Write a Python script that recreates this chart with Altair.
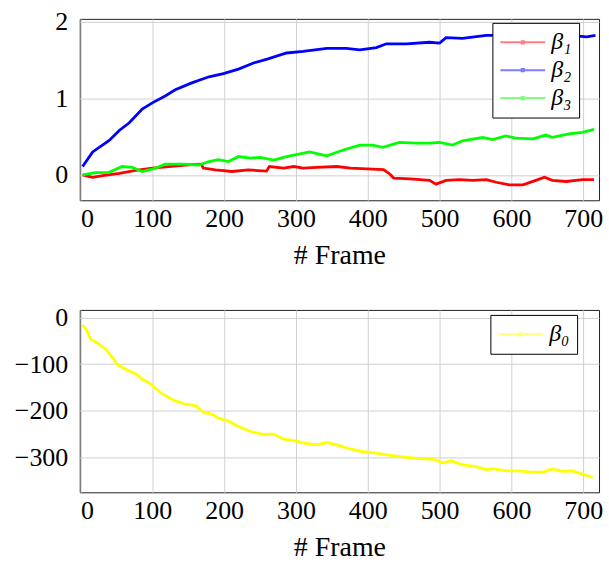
import altair as alt
import pandas as pd

# ---------- data ----------
frames_b1 = [3, 17, 31, 54, 77, 100, 123, 146, 168, 171, 188, 211, 234, 259, 263, 283, 297, 310, 329, 357,
             376, 399, 422, 431, 436, 459, 486, 495, 509, 528, 546, 565, 579, 597, 616, 634, 646, 657, 676, 699, 715]
beta1 = [0.0, -0.03, -0.01, 0.02, 0.06, 0.09, 0.11, 0.13, 0.14, 0.09, 0.065, 0.045, 0.065, 0.05, 0.11, 0.09,
         0.11, 0.09, 0.10, 0.11, 0.09, 0.08, 0.07, 0.01, -0.04, -0.05, -0.07, -0.12, -0.07, -0.06, -0.07, -0.06,
         -0.095, -0.13, -0.13, -0.07, -0.03, -0.07, -0.085, -0.06, -0.06]

frames_b2 = [3, 17, 40, 54, 68, 86, 100, 118, 132, 155, 179, 199, 220, 241, 260, 287, 310, 343, 370, 389,
             412, 426, 454, 486, 500, 509, 532, 565, 590, 620, 650, 680, 705, 717]
beta2 = [0.11, 0.30, 0.45, 0.58, 0.68, 0.86, 0.94, 1.03, 1.11, 1.20, 1.28, 1.32, 1.38, 1.46, 1.51, 1.59, 1.61,
         1.65, 1.65, 1.63, 1.66, 1.71, 1.71, 1.73, 1.72, 1.79, 1.78, 1.82, 1.82, 1.83, 1.83, 1.82, 1.80, 1.82]

frames_b3 = [3, 21, 40, 58, 72, 86, 105, 118, 142, 165, 179, 192, 206, 220, 236, 250, 269, 287, 319, 343,
             366, 389, 407, 421, 444, 468, 486, 500, 518, 532, 560, 574, 592, 606, 630, 648, 657, 680, 699, 715]
beta3 = [0.0, 0.03, 0.035, 0.11, 0.10, 0.045, 0.09, 0.14, 0.14, 0.13, 0.175, 0.20, 0.175, 0.24, 0.22, 0.23,
         0.195, 0.24, 0.30, 0.25, 0.325, 0.39, 0.39, 0.36, 0.425, 0.415, 0.415, 0.425, 0.39, 0.445, 0.49, 0.46,
         0.51, 0.48, 0.47, 0.52, 0.49, 0.535, 0.555, 0.595]

frames_b0 = [3, 8, 14, 26, 35, 45, 51, 63, 77, 86, 98, 114, 132, 146, 160, 172, 183, 192, 206, 220, 236, 255,
             269, 283, 297, 310, 329, 343, 361, 375, 394, 412, 431, 449, 468, 486, 491, 505, 516, 532, 551, 565,
             574, 593, 611, 630, 643, 657, 671, 685, 699, 713]
beta0 = [-16, -25, -46, -57, -68, -86, -100, -111, -121, -132, -143, -164, -179, -186, -189, -204, -207, -216,
         -222, -234, -244, -251, -250, -261, -264, -269, -273, -268, -275, -282, -288, -291, -296, -299, -302,
         -304, -304, -312, -307, -316, -320, -326, -324, -329, -329, -332, -332, -325, -330, -329, -336, -343]

top_names = ["β₁", "β₂", "β₃"]
top_colors = ["#ff0000", "#0000ff", "#00ff00"]
x_ticks = [0, 100, 200, 300, 400, 500, 600, 700]

top_df = pd.concat([
    pd.DataFrame({"frame": frames_b1, "value": beta1, "series": top_names[0]}),
    pd.DataFrame({"frame": frames_b2, "value": beta2, "series": top_names[1]}),
    pd.DataFrame({"frame": frames_b3, "value": beta3, "series": top_names[2]}),
])
bot_df = pd.DataFrame({"frame": frames_b0, "value": beta0, "series": "β₀"})

FONT = "Liberation Serif"
SYM = "M-2,0L2,0M-0.1,-0.1L0.1,-0.1L0.1,0.1L-0.1,0.1Z"


def legend(lx, ly):
    return alt.Legend(
        title=None, orient="none", legendX=lx, legendY=ly, direction="vertical",
        fillColor="white", strokeColor="black", padding=7, cornerRadius=0,
        symbolType=SYM, symbolSize=506, symbolStrokeWidth=2, symbolOpacity=0.5,
        symbolOffset=11, labelOffset=16, rowPadding=3,
        labelFont=FONT, labelFontSize=24, labelFontStyle="italic", labelColor="black",
    )


xenc = alt.X("frame:Q", scale=alt.Scale(domain=[-1, 722], nice=False, zero=False),
             axis=alt.Axis(values=x_ticks, title="# Frame", format="d"))

top = alt.Chart(top_df).mark_line(strokeWidth=2.8).encode(
    x=xenc,
    y=alt.Y("value:Q", scale=alt.Scale(domain=[-0.33, 2.035], nice=False, zero=False),
            axis=alt.Axis(values=[0, 1, 2], title=None, format="d")),
    color=alt.Color("series:N", scale=alt.Scale(domain=top_names, range=top_colors),
                    legend=legend(414, 4)),
).properties(width=521, height=182)

bottom = alt.Chart(bot_df).mark_line(strokeWidth=2.8).encode(
    x=xenc,
    y=alt.Y("value:Q", scale=alt.Scale(domain=[-375, 16.3], nice=False, zero=False),
            axis=alt.Axis(values=[0, -100, -200, -300], title=None, format="d")),
    color=alt.Color("series:N", scale=alt.Scale(domain=["β₀"], range=["#ffff00"]),
                    legend=legend(412, 5)),
).properties(width=521, height=183)

chart = alt.vconcat(top, bottom, spacing=34).resolve_scale(color="independent").configure(
    padding={"left": 13, "top": 7, "right": 5, "bottom": 2},
    background="white",
).configure_view(
    stroke="#222222", strokeWidth=1,
).configure_axis(
    labelFont=FONT, labelFontSize=26, labelColor="black",
    titleFont=FONT, titleFontSize=28, titleColor="black", titleFontWeight="normal",
    grid=True, gridColor="#d0d0d0", gridWidth=1, domain=False, ticks=False,
).configure_axisX(labelPadding=5, titlePadding=10).configure_axisY(labelPadding=12)

chart.save("out.html", embed_options={"renderer": "svg", "actions": False})
